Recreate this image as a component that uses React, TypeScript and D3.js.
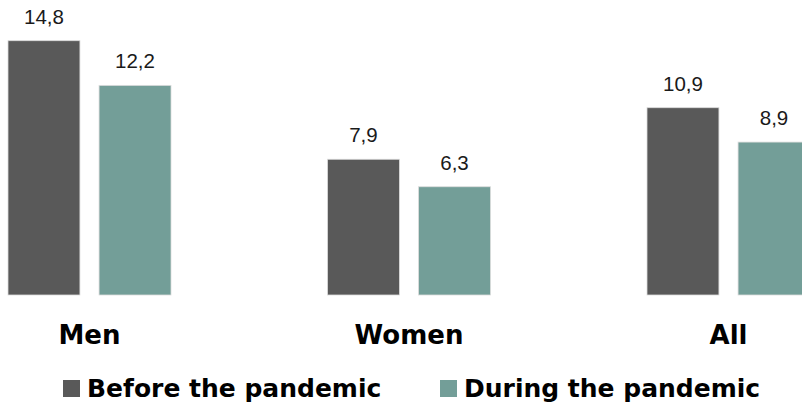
import React from "react";
import * as d3 from "d3";

const categories = ["Men", "Women", "All"];
const seriesNames = ["Before the pandemic", "During the pandemic"];
const beforeValues = [14.8, 7.9, 10.9];
const duringValues = [12.2, 6.3, 8.9];
const colors = ["#595959", "#739e98"];

const W = 802;
const H = 405;

export default function App() {
  const x = d3.scaleBand<string>().domain(categories).range([-70.25, 888.25]).paddingInner(0).paddingOuter(0);
  const inner = d3.scaleBand<number>().domain([0, 1]).range([-81.5, 81.5]).paddingInner(0.21).paddingOuter(0);
  const y = d3.scaleLinear().domain([0, 14.8]).range([295, 40.7]);
  const series = [beforeValues, duringValues];
  const fmt = (v: number) => d3.format(".1f")(v).replace(".", ",");

  return (
    <svg width={W} height={H} style={{ position: "absolute", left: 0, top: 0, background: "#fff" }}>
      {categories.map((c, i) => {
        const cx = (x(c) as number) + x.bandwidth() / 2;
        return (
          <g key={c}>
            {series.map((vals, s) => {
              const bx = cx + (inner(s) as number);
              const v = vals[i];
              return (
                <g key={s}>
                  <rect x={bx} y={y(v)} width={inner.bandwidth()} height={y(0) - y(v)} fill={colors[s]} stroke="#dcdcdc" strokeWidth={0.8} />
                  <text x={bx + inner.bandwidth() / 2} y={y(v) - 17} textAnchor="middle" fontFamily="'Liberation Sans', Arial, sans-serif" fontSize={20.5} fill="#1a1a1a">
                    {fmt(v)}
                  </text>
                </g>
              );
            })}
            <text x={cx} y={344} textAnchor="middle" fontFamily="'DejaVu Sans', sans-serif" fontWeight="bold" fontSize={26} fill="#000">
              {c}
            </text>
          </g>
        );
      })}
      {seriesNames.map((n, s) => {
        const lx = s === 0 ? 63 : 440;
        return (
          <g key={n}>
            <rect x={lx} y={380} width={17} height={17} fill={colors[s]} />
            <text x={lx + 24} y={397} fontFamily="'DejaVu Sans', sans-serif" fontWeight="bold" fontSize={25} fill="#000">
              {n}
            </text>
          </g>
        );
      })}
    </svg>
  );
}
